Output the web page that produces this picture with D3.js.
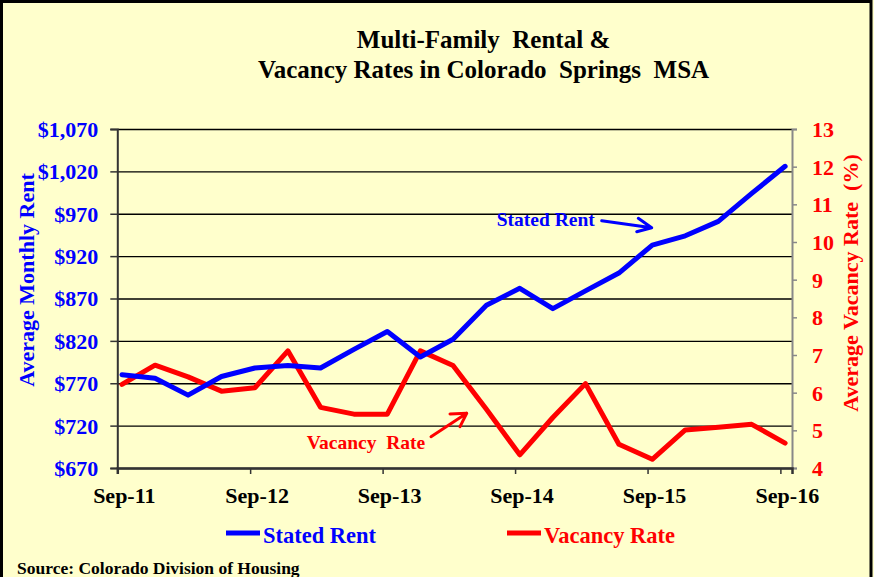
<!DOCTYPE html>
<html>
<head>
<meta charset="utf-8">
<script src="https://cdn.jsdelivr.net/npm/d3@7"></script>
<style>
  html, body { margin: 0; padding: 0; background: #FFFFCC; }
  svg text { font-family: "Liberation Serif", "Times New Roman", serif; font-weight: bold; white-space: pre; }
</style>
</head>
<body>
<svg id="chart" width="874" height="577"></svg>
<script>
// ---- data ----
const quarters = ["2011-09","2011-12","2012-03","2012-06","2012-09","2012-12","2013-03","2013-06","2013-09","2013-12","2014-03","2014-06","2014-09","2014-12","2015-03","2015-06","2015-09","2015-12","2016-03","2016-06","2016-09"];
const statedRent = [780,776,756,778,788,791,788,810,831,801,822,862,882,858,879,900,933,944,961,994,1026];
const vacancyRate = [6.22,6.73,6.42,6.04,6.13,7.11,5.61,5.43,5.43,7.11,6.72,5.56,4.35,5.34,6.24,4.63,4.23,5.01,5.08,5.16,4.66];
const xTickLabels = ["Sep-11","Sep-12","Sep-13","Sep-14","Sep-15","Sep-16"];
const rentTicks = [670,720,770,820,870,920,970,1020,1070];
const vacancyTicks = [4,5,6,7,8,9,10,11,12,13];
const titleLines = ["Multi-Family  Rental &", "Vacancy Rates in Colorado  Springs  MSA"];

(function () {
const svg = d3.select("#chart");
const W = 874, H = 577;
const pL = 117.3, pR = 792, pT = 129, pB = 468;

svg.append("rect").attr("x", 0).attr("y", 0).attr("width", W).attr("height", H).attr("fill", "#FFFFCC");
svg.append("rect").attr("x", 1.5).attr("y", 1.5).attr("width", 869.5).attr("height", 590)
  .attr("fill", "none").attr("stroke", "#000").attr("stroke-width", 3);

const parse = s => { const [y, m] = s.split("-").map(Number); return new Date(y, m - 1, 14); };
const tickDates = xTickLabels.map((l, i) => new Date(2011 + i, 8, 1));

const x = d3.scaleTime().domain([new Date(2011, 8, 1), new Date(2016, 9, 3)]).range([pL, pR]);
const yRent = d3.scaleLinear().domain([670, 1070]).range([pB, pT]);
const yVac = d3.scaleLinear().domain([4, 13]).range([pB, pT]);

// gridlines
svg.append("g").attr("transform", `translate(${pL},0)`)
  .call(d3.axisLeft(yRent).tickValues(rentTicks).tickSize(-(pR - pL)).tickFormat(""))
  .call(g => g.select(".domain").remove())
  .call(g => g.selectAll("line").attr("stroke", "#000").attr("stroke-width", 1.3));

// left axis
const gl = svg.append("g").attr("transform", `translate(${pL},0)`)
  .call(d3.axisLeft(yRent).tickValues(rentTicks).tickSize(7).tickPadding(12).tickFormat(d3.format("$,")));
gl.select(".domain").attr("stroke", "#333").attr("stroke-width", 2);
gl.selectAll("line").attr("stroke", "#333").attr("stroke-width", 1.5);
gl.selectAll("text").attr("fill", "#0000FF").style("font-size", "22px").attr("dy", "0.34em");

// right axis
const gr = svg.append("g").attr("transform", `translate(${pR},0)`)
  .call(d3.axisRight(yVac).tickValues(vacancyTicks).tickSize(5).tickPadding(15).tickFormat(d3.format("d")));
gr.select(".domain").attr("stroke", "#888").attr("stroke-width", 2);
gr.selectAll("line").attr("stroke", "#888").attr("stroke-width", 1.5);
gr.selectAll("text").attr("fill", "#FF0000").style("font-size", "22px").attr("dy", "0.34em");

// bottom axis
const gb = svg.append("g").attr("transform", `translate(0,${pB})`)
  .call(d3.axisBottom(x).tickValues(tickDates).tickSize(6).tickFormat((d, i) => xTickLabels[i]));
gb.select(".domain").attr("stroke", "#333").attr("stroke-width", 2.5);
gb.selectAll("line").attr("stroke", "#333").attr("stroke-width", 1.5);
gb.selectAll("text").attr("fill", "#000").style("font-size", "22px").attr("y", 35).attr("dy", 0).attr("dx", 6.5);

// lines
const rentLine = d3.line().x((d, i) => x(parse(quarters[i]))).y(d => yRent(d));
const vacLine = d3.line().x((d, i) => x(parse(quarters[i]))).y(d => yVac(d));
svg.append("path").datum(vacancyRate).attr("d", vacLine).attr("fill", "none")
  .attr("stroke", "#FF0000").attr("stroke-width", 5).attr("stroke-linejoin", "round").attr("stroke-linecap", "round");
svg.append("path").datum(statedRent).attr("d", rentLine).attr("fill", "none")
  .attr("stroke", "#0000FF").attr("stroke-width", 5).attr("stroke-linejoin", "round").attr("stroke-linecap", "round");

// title
svg.append("text").attr("x", 483.5).attr("y", 48.3).attr("text-anchor", "middle")
  .style("font-size", "25px").attr("fill", "#000").text(titleLines[0]);
svg.append("text").attr("x", 483.5).attr("y", 78.3).attr("text-anchor", "middle")
  .style("font-size", "25px").attr("fill", "#000").text(titleLines[1]);

// axis titles
svg.append("text").attr("transform", "translate(33.5,280) rotate(-90)").attr("text-anchor", "middle")
  .style("font-size", "22px").attr("fill", "#0000FF").text("Average Monthly Rent");
svg.append("text").attr("transform", "translate(858,283) rotate(-90)").attr("text-anchor", "middle")
  .style("font-size", "22px").attr("fill", "#FF0000").text("Average Vacancy Rate  (%)");

// annotations
svg.append("text").attr("x", 496.7).attr("y", 226).style("font-size", "19.5px").attr("fill", "#0000FF").text("Stated Rent");
const blueArrow = d3.path();
blueArrow.moveTo(601.7, 220.7); blueArrow.lineTo(651.7, 227.7);
blueArrow.moveTo(638.3, 218.3); blueArrow.lineTo(651.7, 227.7); blueArrow.lineTo(636.7, 231.7);
svg.append("path").attr("d", blueArrow.toString()).attr("fill", "none").attr("stroke", "#0000FF")
  .attr("stroke-width", 3).attr("stroke-linecap", "round").attr("stroke-linejoin", "round");

svg.append("text").attr("x", 306.7).attr("y", 449).style("font-size", "19.5px").attr("fill", "#FF0000").text("Vacancy  Rate");
const redArrow = d3.path();
redArrow.moveTo(431, 436.7); redArrow.lineTo(466.7, 413.3);
redArrow.moveTo(450, 414); redArrow.lineTo(466.7, 413.3); redArrow.lineTo(460, 426.7);
svg.append("path").attr("d", redArrow.toString()).attr("fill", "none").attr("stroke", "#FF0000")
  .attr("stroke-width", 3).attr("stroke-linecap", "round").attr("stroke-linejoin", "round");

// legend
const legend = [{name: "Stated Rent", color: "#0000FF", x: 226}, {name: "Vacancy Rate", color: "#FF0000", x: 507}];
legend.forEach(l => {
  svg.append("line").attr("x1", l.x).attr("x2", l.x + 34).attr("y1", 533).attr("y2", 533)
    .attr("stroke", l.color).attr("stroke-width", 5);
  svg.append("text").attr("x", l.x + 37).attr("y", 543).style("font-size", "22.5px").attr("fill", l.color).text(l.name);
});

// source
svg.append("text").attr("x", 17).attr("y", 574).style("font-size", "17.5px").attr("fill", "#000")
  .text("Source: Colorado Division of Housing");
})();
</script>
</body>
</html>
